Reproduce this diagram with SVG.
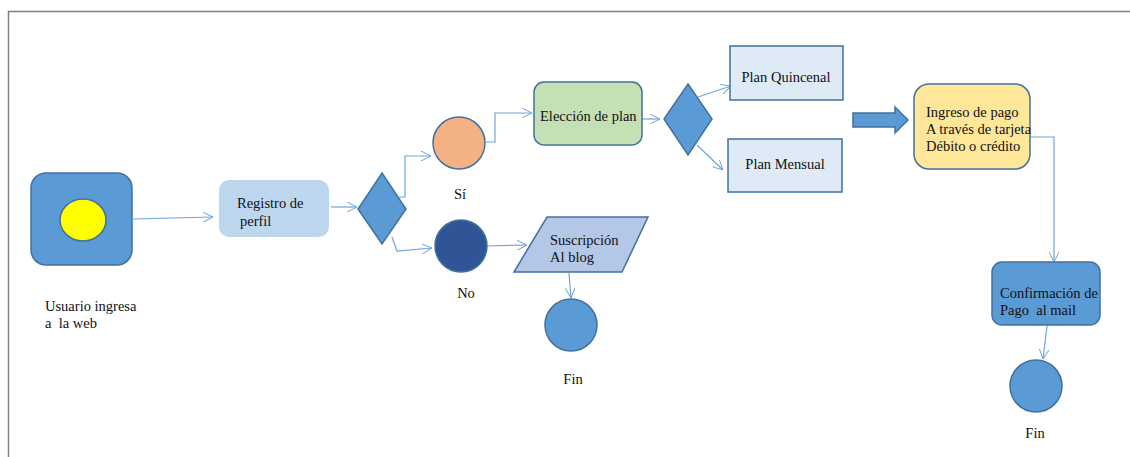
<svg xmlns="http://www.w3.org/2000/svg" width="1130" height="457" viewBox="0 0 1130 457">
<defs>
<marker id="ah" viewBox="0 0 10 10" refX="10" refY="5" markerWidth="10" markerHeight="10" markerUnits="userSpaceOnUse" orient="auto">
<path d="M0,0 L10,5 L0,10" fill="none" stroke="#6fa5dc" stroke-width="1"/>
</marker>
<style>
.t{font-family:"Liberation Serif","Times New Roman",serif;font-size:14.5px;fill:#111;white-space:pre}
.c{fill:none;stroke:#6fa5dc;stroke-width:1.2;marker-end:url(#ah)}
.s{stroke:#41719c;stroke-width:1.5}
</style>
</defs>
<rect width="1130" height="457" fill="#fff"/>
<path d="M8.5,457 V11.5 H1130" fill="none" stroke="#808080" stroke-width="1.5"/>
<g id="connectors">
<path class="c" d="M133,219 L213,217"/>
<path class="c" d="M331,207 L357,207"/>
<path class="c" d="M399,197 H405 V156 H431"/>
<path class="c" d="M486,142 H495 V113 H532"/>
<path class="c" d="M392,237 L397,251 L432,248"/>
<path class="c" d="M487,246 L527,245"/>
<path class="c" d="M569,273 L571,298"/>
<path class="c" d="M637,119 L660,119"/>
<path class="c" d="M698,97 L731,86"/>
<path class="c" d="M697,145 L723,170"/>
<path class="c" d="M1030,137 H1054 V262"/>
<path class="c" d="M1047,326 L1043,359"/>
</g>
<g id="start">
<rect class="s" x="31" y="173" width="101" height="92" rx="15" fill="#5b9bd5"/>
<ellipse class="s" cx="83" cy="220" rx="23" ry="21" fill="#ffff00"/>
<text class="t" x="45" y="311">Usuario ingresa</text>
<text class="t" x="45" y="328" xml:space="preserve">a  la web</text>
</g>
<g id="registro">
<rect x="219" y="180" width="110" height="57" rx="10" fill="#bdd7ee"/>
<text class="t" x="237" y="208">Registro de</text>
<text class="t" x="240" y="226">perfil</text>
</g>
<g id="decision1">
<polygon class="s" points="382,173 406,209 382,244 358,209" fill="#5b9bd5"/>
</g>
<g id="si">
<circle class="s" cx="459" cy="143" r="26" fill="#f4b183"/>
<text class="t" x="460" y="199" text-anchor="middle">Sí</text>
</g>
<g id="no">
<circle class="s" cx="461" cy="246" r="26" fill="#2f5597"/>
<text class="t" x="466" y="298" text-anchor="middle">No</text>
</g>
<g id="suscripcion">
<polygon class="s" points="547,217 648,217 622,272 514,272" fill="#b4c7e7"/>
<text class="t" x="550" y="245">Suscripción</text>
<text class="t" x="550" y="262">Al blog</text>
</g>
<g id="fin1">
<circle class="s" cx="571" cy="325" r="26" fill="#5b9bd5"/>
<text class="t" x="573" y="384" text-anchor="middle">Fin</text>
</g>
<g id="eleccion">
<rect class="s" x="534" y="82" width="108" height="63" rx="10" fill="#c5e0b4"/>
<text class="t" x="540" y="121">Elección de plan</text>
</g>
<g id="decision2">
<polygon class="s" points="688,84 712,119 688,155 664,119" fill="#5b9bd5"/>
</g>
<g id="quincenal">
<rect class="s" x="730" y="46" width="113" height="54" fill="#deebf7"/>
<text class="t" x="786" y="82" text-anchor="middle">Plan Quincenal</text>
</g>
<g id="mensual">
<rect class="s" x="728" y="139" width="114" height="53" fill="#deebf7"/>
<text class="t" x="785" y="169" text-anchor="middle">Plan Mensual</text>
</g>
<g id="blockarrow">
<polygon class="s" points="853,113 895,113 895,107 908,120 895,133 895,127 853,127" fill="#5b9bd5"/>
</g>
<g id="pago">
<rect class="s" x="914" y="84" width="116" height="85" rx="15" fill="#ffe699"/>
<text class="t" x="926" y="117">Ingreso de pago</text>
<text class="t" x="926" y="134">A través de tarjeta</text>
<text class="t" x="926" y="151">Débito o crédito</text>
</g>
<g id="confirmacion">
<rect class="s" x="992" y="262" width="108" height="63" rx="10" fill="#5b9bd5"/>
<text class="t" x="1000" y="298">Confirmación de</text>
<text class="t" x="1000" y="315" xml:space="preserve">Pago  al mail</text>
</g>
<g id="fin2">
<circle class="s" cx="1036" cy="386" r="26" fill="#5b9bd5"/>
<text class="t" x="1035" y="438" text-anchor="middle">Fin</text>
</g>
</svg>
